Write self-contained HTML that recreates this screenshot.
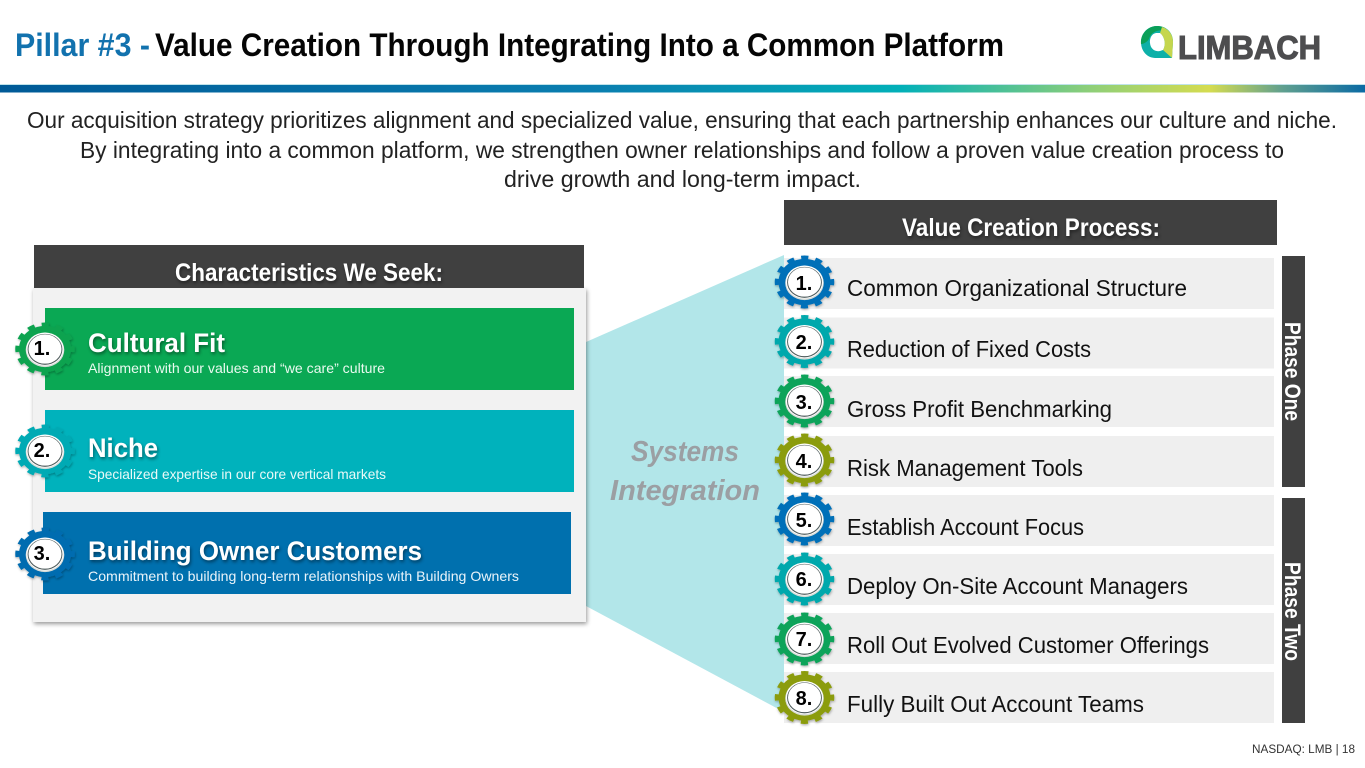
<!DOCTYPE html>
<html lang="en"><head><meta charset="utf-8"><title>Pillar #3</title>
<style>
html,body{margin:0;padding:0;background:#fff;width:1365px;height:768px;overflow:hidden}
svg{display:block}
text{font-family:"Liberation Sans",Arial,sans-serif}
.b{font-weight:700}
.ts{filter:drop-shadow(1px 2px 1.5px rgba(0,0,0,.45))}
.row{font-size:23px;fill:#111}
.n{font-size:20px;font-weight:700;fill:#000;text-anchor:middle}
</style></head><body>
<svg width="1365" height="768" viewBox="0 0 1365 768" xmlns="http://www.w3.org/2000/svg">
<defs>
<linearGradient id="band" x1="0" x2="1" y1="0" y2="0">
<stop offset="0" stop-color="#005a97"/><stop offset=".44" stop-color="#0a7fb0"/><stop offset=".66" stop-color="#02b0b8"/><stop offset=".8" stop-color="#8fcf78"/><stop offset=".886" stop-color="#d5dc50"/><stop offset=".94" stop-color="#5f9f8f"/><stop offset="1" stop-color="#0a6aa4"/>
</linearGradient>
<filter id="sh" x="-10%" y="-10%" width="120%" height="120%"><feDropShadow dx="1" dy="2" stdDeviation="2" flood-color="#000" flood-opacity=".4"/></filter>
<filter id="sg" x="-15%" y="-15%" width="130%" height="130%"><feDropShadow dx="0.5" dy="1.5" stdDeviation="1.2" flood-color="#000" flood-opacity=".3"/></filter>
<g id="gear">
<g filter="url(#sg)">
<circle r="27" fill="none" stroke="currentColor" stroke-width="5.5" stroke-dasharray="7 7.14" stroke-dashoffset="3.5"/>
<circle r="26" fill="currentColor"/>
</g>
<circle r="19.3" cy="1" fill="#d8dcd8"/>
<circle r="18.6" fill="#fff"/>
<circle r="17.4" cy="0.4" fill="#4f5c5c"/>
<circle r="16.5" fill="#fff"/>
</g>
</defs>

<!-- Header -->
<text x="15" y="56" class="b" font-size="32" fill="#1272ae" textLength="135" lengthAdjust="spacingAndGlyphs">Pillar #3 -</text>
<text x="155" y="56" class="b" font-size="32" fill="#050505" textLength="849" lengthAdjust="spacingAndGlyphs">Value Creation Through Integrating Into a Common Platform</text>
<rect x="0" y="84" width="1365" height="1" fill="#bfe3ea"/>
<rect x="0" y="85" width="1365" height="7.5" fill="url(#band)"/>

<!-- Logo -->
<path d="M1157 26 C1167 26 1173 33 1173 42 L1172 58 L1155 58 C1147 58 1141 51 1141 42 C1141 33 1148 26 1157 26 Z" fill="#0db0a8"/>
<path d="M1141 44 C1140 33 1149 26 1157 26 C1161 26 1165 27 1168 31 C1160 29 1151 31 1149 39 C1147 42 1144 44 1141 44 Z" fill="#0a9f58"/>
<path d="M1162 27 C1169 29 1173 35 1173 42 L1172 58 L1163 50 C1166 45 1165 37 1160 33 Z" fill="#c5d64e"/>
<path d="M1157 33 C1152 33 1149.5 38 1150 43 C1150.5 49 1155 52 1160 51 L1163 50 C1166 45 1165 37 1160 33 Z" fill="#fff"/>
<text x="1178" y="59" class="b" font-size="33" fill="#4d4d4f" stroke="#4d4d4f" stroke-width="1.1" textLength="143" lengthAdjust="spacingAndGlyphs">LIMBACH</text>

<!-- Intro -->
<text x="27" y="128" font-size="23" fill="#222" textLength="1310" lengthAdjust="spacingAndGlyphs">Our acquisition strategy prioritizes alignment and specialized value, ensuring that each partnership enhances our culture and niche.</text>
<text x="80" y="158" font-size="23" fill="#222" textLength="1204" lengthAdjust="spacingAndGlyphs">By integrating into a common platform, we strengthen owner relationships and follow a proven value creation process to</text>
<text x="504" y="187" font-size="23" fill="#222" textLength="357" lengthAdjust="spacingAndGlyphs">drive growth and long-term impact.</text>

<!-- Funnel -->
<polygon points="586,342 784,255 784,712 586,606" fill="#b2e6e9"/>
<text x="631" y="461" class="b" font-size="29" font-style="italic" fill="#9b9fa3" textLength="108" lengthAdjust="spacingAndGlyphs">Systems</text>
<text x="610" y="500" class="b" font-size="29" font-style="italic" fill="#9b9fa3" textLength="150" lengthAdjust="spacingAndGlyphs">Integration</text>

<!-- Left panel -->
<rect x="33" y="288" width="553" height="334" fill="#f2f2f2" filter="url(#sh)"/>
<rect x="34" y="245" width="550" height="43" fill="#404040"/>
<text x="175" y="281" class="b ts" font-size="25" fill="#fff" textLength="268" lengthAdjust="spacingAndGlyphs">Characteristics We Seek:</text>
<rect x="45" y="308" width="529" height="82" fill="#0aa854"/>
<rect x="45" y="410" width="529" height="82" fill="#00b2bc"/>
<rect x="43" y="512" width="528" height="82" fill="#0070ae"/>
<text x="88" y="352" class="b ts" font-size="27" fill="#fff" textLength="137" lengthAdjust="spacingAndGlyphs">Cultural Fit</text>
<text x="88" y="373" font-size="14" fill="#eafaf0" textLength="297" lengthAdjust="spacingAndGlyphs">Alignment with our values and “we care” culture</text>
<text x="88" y="457" class="b ts" font-size="27" fill="#fff" textLength="70" lengthAdjust="spacingAndGlyphs">Niche</text>
<text x="88" y="479" font-size="14" fill="#eafaf8" textLength="298" lengthAdjust="spacingAndGlyphs">Specialized expertise in our core vertical markets</text>
<text x="88" y="560" class="b ts" font-size="27" fill="#fff" textLength="334" lengthAdjust="spacingAndGlyphs">Building Owner Customers</text>
<text x="88" y="581" font-size="14" fill="#eaf4fa" textLength="431" lengthAdjust="spacingAndGlyphs">Commitment to building long-term relationships with Building Owners</text>

<g transform="translate(45,349) scale(1,.89)" color="#0aa350"><use href="#gear"/></g>
<g transform="translate(45,451) scale(1,.89)" color="#00aab4"><use href="#gear"/></g>
<g transform="translate(45,554) scale(1,.89)" color="#006cb0"><use href="#gear"/></g>
<text x="42" y="355" class="n">1.</text><text x="42" y="457" class="n">2.</text><text x="42" y="560" class="n">3.</text>

<!-- Right -->
<rect x="784" y="200" width="493" height="45" fill="#404040"/>
<text x="902" y="236" class="b ts" font-size="25" fill="#fff" textLength="258" lengthAdjust="spacingAndGlyphs">Value Creation Process:</text>
<g fill="#efefef">
<rect x="784" y="258" width="490" height="51"/><rect x="784" y="317.5" width="490" height="51"/>
<rect x="784" y="376" width="490" height="51"/><rect x="784" y="436" width="490" height="51"/>
<rect x="784" y="495" width="490" height="51"/><rect x="784" y="554" width="490" height="51"/>
<rect x="784" y="613" width="490" height="51"/><rect x="784" y="672" width="490" height="51"/>
</g>
<text x="847" y="296" class="row" textLength="340" lengthAdjust="spacingAndGlyphs">Common Organizational Structure</text>
<text x="847" y="357" class="row" textLength="244" lengthAdjust="spacingAndGlyphs">Reduction of Fixed Costs</text>
<text x="847" y="417" class="row" textLength="265" lengthAdjust="spacingAndGlyphs">Gross Profit Benchmarking</text>
<text x="847" y="476" class="row" textLength="236" lengthAdjust="spacingAndGlyphs">Risk Management Tools</text>
<text x="847" y="535" class="row" textLength="237" lengthAdjust="spacingAndGlyphs">Establish Account Focus</text>
<text x="847" y="594" class="row" textLength="341" lengthAdjust="spacingAndGlyphs">Deploy On-Site Account Managers</text>
<text x="847" y="653" class="row" textLength="362" lengthAdjust="spacingAndGlyphs">Roll Out Evolved Customer Offerings</text>
<text x="847" y="712" class="row" textLength="297" lengthAdjust="spacingAndGlyphs">Fully Built Out Account Teams</text>

<g transform="translate(804.5,282) scale(1,.89)" color="#0070b8"><use href="#gear"/></g>
<g transform="translate(804.5,341.5) scale(1,.89)" color="#00a8ac"><use href="#gear"/></g>
<g transform="translate(804.5,401) scale(1,.89)" color="#0aa35a"><use href="#gear"/></g>
<g transform="translate(804.5,460) scale(1,.89)" color="#8b9c0c"><use href="#gear"/></g>
<g transform="translate(804.5,519) scale(1,.89)" color="#0070b8"><use href="#gear"/></g>
<g transform="translate(804.5,579) scale(1,.89)" color="#00a8ac"><use href="#gear"/></g>
<g transform="translate(804.5,639) scale(1,.89)" color="#0aa35a"><use href="#gear"/></g>
<g transform="translate(804.5,697.5) scale(1,.89)" color="#8b9c0c"><use href="#gear"/></g>
<text x="804" y="290" class="n">1.</text><text x="804" y="349" class="n">2.</text>
<text x="804" y="409" class="n">3.</text><text x="804" y="468" class="n">4.</text>
<text x="804" y="527" class="n">5.</text><text x="804" y="586" class="n">6.</text>
<text x="804" y="646" class="n">7.</text><text x="804" y="705" class="n">8.</text>

<!-- Phases -->
<rect x="1282" y="256" width="23" height="231" fill="#404040"/>
<rect x="1282" y="498" width="23" height="225" fill="#404040"/>
<text transform="translate(1285,322) rotate(90)" class="b" font-size="22" fill="#fff" textLength="99" lengthAdjust="spacingAndGlyphs">Phase One</text>
<text transform="translate(1285,562) rotate(90)" class="b" font-size="22" fill="#fff" textLength="99" lengthAdjust="spacingAndGlyphs">Phase Two</text>

<text x="1252" y="753" font-size="11.5" fill="#333" textLength="103" lengthAdjust="spacingAndGlyphs">NASDAQ: LMB | 18</text>
</svg>
</body></html>
